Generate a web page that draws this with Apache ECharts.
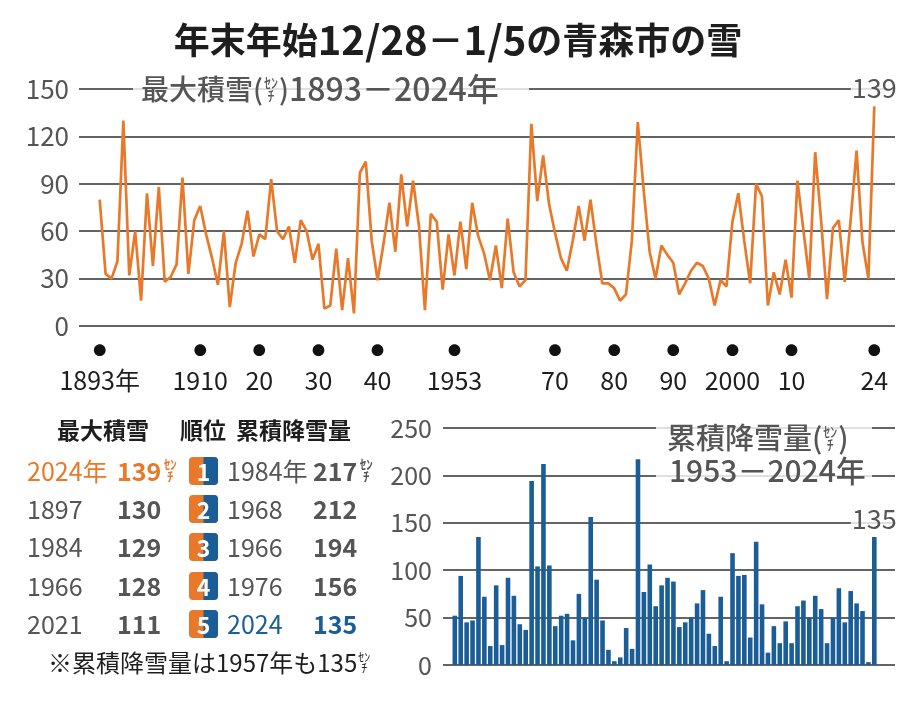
<!DOCTYPE html>
<html><head><meta charset="utf-8">
<script src="https://cdn.jsdelivr.net/npm/echarts@6/dist/echarts.min.js"></script>
<style>html,body{margin:0;padding:0;background:#fff}#c{width:920px;height:702px}</style>
</head><body><div id="c"></div>
<script>
const FONT = '"Noto Sans CJK JP","Noto Sans",sans-serif';
const ORANGE = '#e8792a';
const BLUE = '#1b5e97';
const GRAY = '#555555';
const DARK = '#1e1e1e';

// ---- data ----
const maxStartYear = 1893;
const maxSnow = [
  80,33,30,41,130,32,60,                 // 1893-1899
  16,84,38,88,28,31,39,94,33,67,         // 1900s
  76,58,43,26,60,12,40,52,73,44,         // 1910s
  58,55,93,60,55,63,40,67,60,42,         // 1920s
  52,11,13,49,10,43,8,97,104,54,         // 1930s
  29,52,78,47,96,63,92,63,10,71,         // 1940s
  66,23,58,32,66,36,78,57,46,29,         // 1950s
  51,24,68,34,25,29,128,79,108,77,       // 1960s
  59,43,35,54,76,54,80,52,27,27,         // 1970s
  24,16,20,54,129,86,47,30,51,45,        // 1980s
  40,20,27,35,40,38,30,13,29,25,         // 1990s
  66,84,54,27,90,82,13,34,20,42,         // 2000s
  18,92,61,30,110,67,17,62,67,28,        // 2010s
  67,111,53,30,139                       // 2020-2024
];
const snowStartYear = 1953;
const snowfall = [
  52,94,45,47,135,72,20,                 // 1953-1959
  84,21,92,73,43,37,194,104,212,105,     // 1960s
  41,52,54,26,75,50,156,90,47,16,        // 1970s
  4,8,39,17,217,77,106,62,84,92,         // 1980s
  88,40,45,50,65,79,33,20,72,4,          // 1990s
  118,94,95,29,130,64,13,41,23,46,       // 2000s
  23,62,68,50,73,59,23,50,81,45,         // 2010s
  78,65,57,3,135                         // 2020-2024
];
const topTickYears  = [1893,1910,1920,1930,1940,1953,1970,1980,1990,2000,2010,2024];
const topTickLabels = ['1893年','1910','20','30','40','1953','70','80','90','2000','10','24'];

const maxRankYears   = ['2024年','1897','1984','1966','2021'];
const maxRankValues  = ['139','130','129','128','111'];
const ranks          = ['1','2','3','4','5'];
const snowRankYears  = ['1984年','1968','1966','1976','2024'];
const snowRankValues = ['217','212','194','156','135'];

// ---- helpers ----
const cv = document.createElement('canvas').getContext('2d');
function tw(t, size, weight){ cv.font = (weight||'normal') + ' ' + size + 'px ' + FONT; return cv.measureText(t).width; }
function txt(x, y, t, size, color, weight, align){
  return {type:'text', x:x, y:y, z:100, style:{text:t, fill:color, font:(weight||'normal')+' '+size+'px '+FONT,
    textAlign:align||'left', align:align||'left', textVerticalAlign:'middle', verticalAlign:'middle'}};
}
function unit(cx, y, size, color, weight){
  return [txt(cx, y - size*0.45, 'ｾﾝ', size, color, weight, 'center'),
          txt(cx, y + size*0.45, 'ﾁ', size, color, weight, 'center')];
}
// sequential text parts; part: {t,size,weight,color} or {u:size,color}
function seq(x, y, parts){
  const out = [];
  parts.forEach(p => {
    if (p.u){ const w = tw('ｾﾝ', p.u, p.weight); out.push(...unit(x + w/2 + 1, y, p.u, p.color, p.weight)); x += w + 2; }
    else { out.push(txt(x, y, p.t, p.size, p.color, p.weight)); x += tw(p.t, p.size, p.weight); }
  });
  return out;
}

const graphics = [];
// title
(function(){
  const parts = [
    {t:'年末年始', size:36, weight:'bold', color:DARK},
    {t:'12/28', size:40, weight:'bold', color:DARK},
    {t:'－', size:36, weight:'bold', color:DARK},
    {t:'1/5', size:40, weight:'bold', color:DARK},
    {t:'の青森市の雪', size:36, weight:'bold', color:DARK}
  ];
  let w = 0; parts.forEach(p => w += tw(p.t, p.size, p.weight));
  graphics.push(...seq(458 - w/2, 40, parts));
})();

// top subtitle with translucent backing
graphics.push({type:'rect', z:90, shape:{x:133, y:75, width:396, height:28}, style:{fill:'rgba(255,255,255,0.8)'}});
graphics.push(...seq(141, 89, [
  {t:'最大積雪', size:28, color:GRAY, weight:500},
  {t:'(', size:28, color:GRAY, weight:500},
  {u:14, color:GRAY, weight:500},
  {t:')', size:28, color:GRAY, weight:500},
  {t:'1893－2024年', size:32, color:GRAY, weight:500}
]));

// bottom subtitle
graphics.push({type:'rect', z:90, shape:{x:656, y:420, width:216, height:66}, style:{fill:'rgba(255,255,255,0.8)'}});
graphics.push(...seq(667, 438, [
  {t:'累積降雪量', size:29, color:GRAY, weight:500},
  {t:'(', size:29, color:GRAY, weight:500},
  {u:14, color:GRAY, weight:500},
  {t:')', size:29, color:GRAY, weight:500}
]));
graphics.push(txt(669, 471, '1953－2024年', 30, GRAY, 500));

// table header
graphics.push(txt(57, 430, '最大積雪', 23, DARK, 'bold'));
graphics.push(txt(180, 430, '順位', 23, DARK, 'bold'));
graphics.push(txt(236, 430, '累積降雪量', 23, DARK, 'bold'));

const rowY = [471, 509, 547, 586, 624];
ranks.forEach((r, i) => {
  const y = rowY[i];
  const lc = i === 0 ? ORANGE : GRAY;
  const rc = i === 4 ? BLUE : GRAY;
  graphics.push(txt(27, y, maxRankYears[i], 25, lc));
  graphics.push(txt(117, y, maxRankValues[i], 25, lc, 'bold'));
  if (i === 0) graphics.push(...unit(117 + tw(maxRankValues[i], 25, 'bold') + 9, y - 1, 13, lc, 'bold'));
  // badge
  graphics.push({type:'rect', z:95, shape:{x:189, y:y-14, width:29, height:28, r:4}, style:{fill:ORANGE}});
  graphics.push({type:'rect', z:96, shape:{x:203.5, y:y-14, width:14.5, height:28, r:[0,4,4,0]}, style:{fill:BLUE}});
  graphics.push(txt(203.5, y + 1, r, 23, '#fff', 'bold', 'center'));
  graphics.push(txt(227, y, snowRankYears[i], 25, rc));
  graphics.push(txt(313, y, snowRankValues[i], 25, rc, 'bold'));
  if (i === 0) graphics.push(...unit(313 + tw(snowRankValues[i], 25, 'bold') + 9, y - 1, 13, rc, 'bold'));
});
// footnote
graphics.push(...seq(48, 663, [
  {t:'※累積降雪量は1957年も135', size:24, color:DARK},
  {u:12, color:DARK}
]));

const option = {
  animation: false,
  backgroundColor: '#fff',
  textStyle: {fontFamily: FONT},
  grid: [
    {left:79, right:25, top:89, bottom:376},
    {left:443, right:25, top:428, bottom:37}
  ],
  xAxis: [
    {gridIndex:0, type:'value', min:1889.5, max:2027.5,
     splitLine:{show:false}, axisLine:{show:false}, axisTick:{show:false},
     axisLabel:{customValues: topTickYears, margin:9,
       formatter: v => { const k = topTickYears.indexOf(Math.round(v)); return k < 0 ? '' : '{d|●}\n{t|' + topTickLabels[k] + '}'; },
       rich:{ d:{fontSize:13, lineHeight:30, color:'#111', fontFamily:FONT},
              t:{fontSize:25, lineHeight:30, color:DARK, fontFamily:FONT} } }},
    {gridIndex:1, type:'value', min:1951, max:2027.5, show:false, splitLine:{show:false}}
  ],
  yAxis: [
    {gridIndex:0, type:'value', min:0, max:150, interval:30,
     axisLine:{show:false}, axisTick:{show:false},
     axisLabel:{fontSize:26, color:GRAY, margin:10, fontFamily:FONT},
     splitLine:{lineStyle:{color:'#303030', width:1.5}}},
    {gridIndex:1, type:'value', min:0, max:250, interval:50,
     axisLine:{show:false}, axisTick:{show:false},
     axisLabel:{fontSize:25, color:GRAY, margin:11, fontFamily:FONT},
     splitLine:{lineStyle:{color:'#303030', width:1.5}}}
  ],
  series: [
    {type:'line', xAxisIndex:0, yAxisIndex:0, z:5,
     symbol:'circle', symbolSize:0, showSymbol:true,
     lineStyle:{color:ORANGE, width:2.7}, itemStyle:{color:ORANGE},
     label:{show:false},
     data: maxSnow.map((v, i) => {
       const item = {value:[maxStartYear + i, v]};
       if (i === maxSnow.length - 1) item.label = {show:true, position:'top', distance:5, formatter:String(v),
         fontSize:27, color:GRAY, fontFamily:FONT, backgroundColor:'rgba(255,255,255,0.8)', padding:[0,1]};
       return item;
     })},
    {type:'bar', xAxisIndex:1, yAxisIndex:1, barWidth:4.6, z:5,
     itemStyle:{color:BLUE},
     data: snowfall.map((v, i) => {
       const item = {value:[snowStartYear + i, v]};
       if (i === snowfall.length - 1) item.label = {show:true, position:'top', distance:5, formatter:String(v),
         fontSize:27, color:GRAY, fontFamily:FONT, backgroundColor:'rgba(255,255,255,0.8)', padding:[0,1]};
       return item;
     })}
  ],
  graphic: {elements: graphics}
};
const chart = echarts.init(document.getElementById('c'), null, {renderer:'canvas'});
chart.setOption(option);
</script></body></html>
